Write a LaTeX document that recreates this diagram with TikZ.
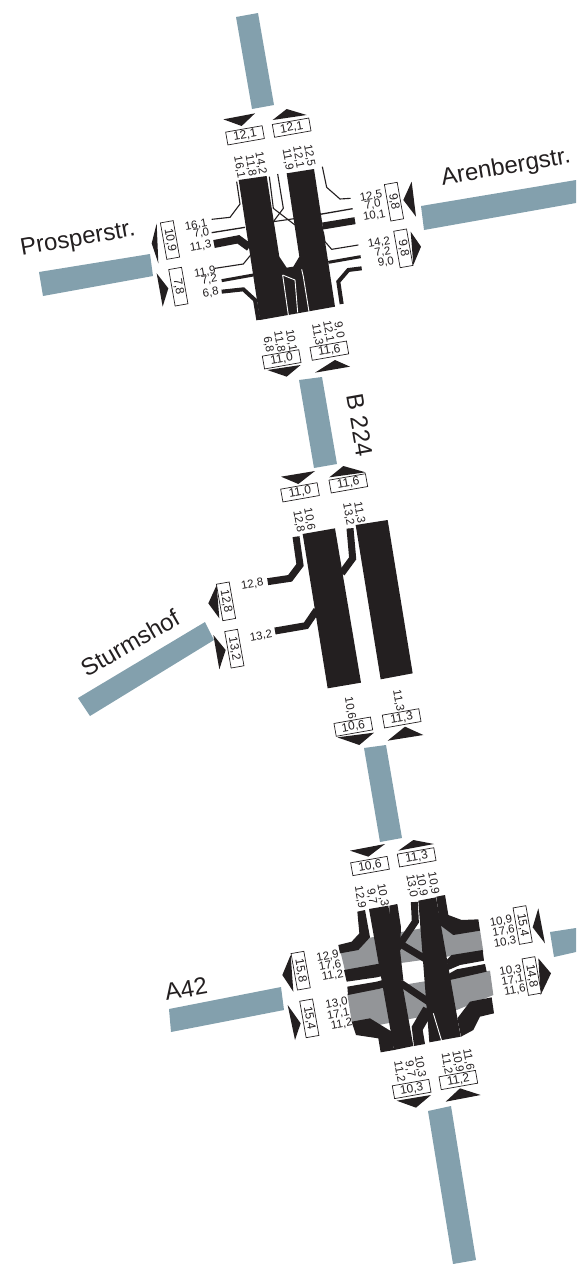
\documentclass[tikz,border=0pt]{standalone}
\usepackage{fontspec}
\setmainfont{Liberation Sans}
\definecolor{road}{HTML}{83A0AD}
\definecolor{bandgrey}{HTML}{939598}
\definecolor{ink}{HTML}{231F20}
\newcounter{lblno}
\tikzset{
  roadshape/.style={fill=road,draw=none},
  tri/.style={fill=ink,draw=none},
  band/.style={fill=ink,draw=none},
  slit/.style={draw=white,line width=0.9pt},
  stroke/.style={draw=ink,line width=#1,line join=miter},
  stroke/.default=1pt,
  val/.style={inner sep=0pt,font=\fontsize{11.5}{12}\selectfont,text=ink},
  valbox/.style={draw=ink,line width=0.7pt,fill=white,inner sep=0pt,minimum width=37pt,minimum height=13pt,
    font=\fontsize{12}{12}\selectfont,text=ink},
  street/.style={inner sep=0pt,font=\fontsize{24}{26}\selectfont,text=ink},
  zoomA/.style={shift={(140,100)},x=0.33333pt,y=-0.33333pt},
  zoomB/.style={shift={(200,460)},x=0.33333pt,y=-0.33333pt},
  zoomC/.style={shift={(270,840)},x=0.33333pt,y=-0.33333pt},
}
% horizontal value, stacked value, boxes
\newcommand{\hval}[2]{\stepcounter{lblno}\node[val,rotate=10] (v\arabic{lblno}) at #1 {#2};}
\newcommand{\sval}[2]{\stepcounter{lblno}\node[val,rotate=-80] (v\arabic{lblno}) at #1 {#2};}
\newcommand{\hbx}[2]{\stepcounter{lblno}\node[valbox,rotate=10] (v\arabic{lblno}) at #1 {#2};}
\newcommand{\sbx}[2]{\stepcounter{lblno}\node[valbox,rotate=-80] (v\arabic{lblno}) at #1 {#2};}
\begin{document}
\begin{tikzpicture}[x=1pt,y=-1pt]
\useasboundingbox (0,0) rectangle (576,1264);
% roads
\fill[roadshape] (236,17) -- (258,13) -- (274,105) -- (252,109) -- cycle;
\fill[roadshape] (39,272) -- (150,254) -- (153,276) -- (43,296) -- cycle;
\fill[roadshape] (421,206) -- (576,180) -- (576,203) -- (424,230) -- cycle;
\fill[roadshape] (299,380) -- (322,377) -- (337,464) -- (314,468) -- cycle;
\fill[roadshape] (78,698) -- (205,622) -- (214,640) -- (90,716) -- cycle;
\fill[roadshape] (364,748) -- (386,745) -- (402,838) -- (380,842) -- cycle;
\fill[roadshape] (169,1009) -- (281,987) -- (284,1010) -- (171,1032) -- cycle;
\fill[roadshape] (550,932) -- (576,928) -- (576,952) -- (554,957) -- cycle;
\fill[roadshape] (428,1111) -- (451,1106) -- (476,1260) -- (453,1264) -- cycle;
% street names
\node[street,rotate=10] (prosper) at (78,240) {Prosperstr.};
\node[street,rotate=10] (arenberg) at (506,168) {Arenbergstr.};
\node[street,rotate=30] (sturm) at (130,643) {Sturmshof};
\node[street,rotate=-80] (b224) at (360,425) {B 224};
\node[street,rotate=10] (a42) at (186,989) {A42};

% ---------- junction 1
\begin{scope}[zoomA]
\fill[band] (296,240) -- (380,228) -- (418,470) -- (440,503) -- (460,500) -- (478,470) -- (440,220) -- (522,207) -- (585,620) -- (360,660) -- cycle;
\draw[slit] (428,525) -- (445,645);
\draw[slit] (428,525) -- (465,540) -- (473,637);
\draw[slit] (485,508) -- (490,530) -- (507,635);
\draw[stroke=1.1pt] (215,358) -- (270,352) -- (300,312) -- (290,245);
\draw[stroke=1.3pt] (215,398) -- (315,382);
\draw[stroke=8pt] (222,432) -- (295,418) -- (328,442);
\draw[stroke=1.1pt] (225,505) -- (310,492) -- (332,465);
\draw[stroke=3pt] (245,542) -- (340,525);
\draw[stroke=4pt] (245,575) -- (310,568) -- (345,600) -- (355,660);
\draw[stroke=1.1pt] (632,295) -- (600,297) -- (560,262) -- (547,200);
\draw[stroke=1.3pt] (638,326) -- (540,343);
\draw[stroke=7pt] (645,362) -- (548,378);
\draw[stroke=1.1pt] (655,435) -- (575,448) -- (555,425) -- (550,395);
\draw[stroke=3pt] (662,470) -- (565,487);
\draw[stroke=4pt] (665,505) -- (625,510) -- (595,545) -- (605,612);
\draw[stroke=1.1pt] (388,230) -- (400,325) -- (465,375);
\draw[stroke=1.1pt] (413,222) -- (430,325) -- (400,365) -- (470,355);
\fill[tri] (250,58) -- (345,40) -- (305,78) -- cycle;
\fill[tri] (398,60) -- (500,45) -- (440,27) -- cycle;
\fill[tri] (35,430) -- (50,370) -- (55,490) -- cycle;
\fill[tri] (50,520) -- (85,565) -- (68,620) -- cycle;
\fill[tri] (790,300) -- (815,245) -- (828,350) -- cycle;
\fill[tri] (812,395) -- (843,440) -- (820,495) -- cycle;
\fill[tri] (382,810) -- (482,795) -- (440,830) -- cycle;
\fill[tri] (525,818) -- (630,800) -- (585,780) -- cycle;
\sval{(362,190)}{14,2} \sval{(332,197)}{11,8} \sval{(298,202)}{16,1}
\sval{(508,167)}{12,5} \sval{(475,172)}{12,1} \sval{(443,178)}{11,9}
\hval{(168,375)}{16,1} \hval{(184,400)}{7,0} \hval{(182,438)}{11,3}
\hval{(195,517)}{11,9} \hval{(208,540)}{7,2} \hval{(212,578)}{6,8}
\hval{(693,288)}{12,5} \hval{(698,315)}{7,0} \hval{(703,347)}{10,1}
\hval{(717,428)}{14,2} \hval{(728,457)}{7,2} \hval{(738,487)}{9,0}
\sval{(453,722)}{10,1} \sval{(418,725)}{11,8} \sval{(385,733)}{6,8}
\sval{(597,690)}{9,0} \sval{(565,695)}{12,1} \sval{(532,705)}{11,3}
\hbx{(315,106)}{12,1} \hbx{(455,83)}{12,1}
\hbx{(425,778)}{11,0} \hbx{(568,752)}{11,6}
\sbx{(762,305)}{9,8} \sbx{(790,445)}{9,8}
\sbx{(90,420)}{10,9} \sbx{(115,560)}{7,8}
\end{scope}

% ---------- junction 2
\begin{scope}[zoomB]
\fill[band] (308,222) -- (405,205) -- (483,668) -- (383,685) -- cycle;
\fill[band] (467,195) -- (563,180) -- (638,640) -- (542,658) -- cycle;
\draw[stroke=7pt] (288,230) -- (300,315) -- (270,355) -- (203,365);
\draw[stroke=7pt] (225,513) -- (318,497) -- (350,450);
\draw[stroke=7pt] (450,205) -- (458,295) -- (425,340);
\fill[tri] (243,50) -- (345,33) -- (295,72) -- cycle;
\fill[tri] (388,52) -- (497,37) -- (430,18) -- cycle;
\fill[tri] (25,430) -- (50,375) -- (58,475) -- cycle;
\fill[tri] (40,525) -- (77,570) -- (58,628) -- cycle;
\fill[tri] (412,832) -- (522,818) -- (478,855) -- cycle;
\fill[tri] (563,842) -- (670,825) -- (615,800) -- cycle;
\hval{(157,373)}{12,8} \hval{(183,528)}{13,2}
\sval{(328,178)}{10,6} \sval{(296,185)}{12,8}
\sval{(478,158)}{11,3} \sval{(445,163)}{13,2}
\sval{(450,745)}{10,6} \sval{(595,722)}{11,3}
\hbx{(300,97)}{11,0} \hbx{(445,70)}{11,6}
\hbx{(460,800)}{10,6} \hbx{(605,775)}{11,3}
\sbx{(78,424)}{12,8} \sbx{(103,566)}{13,2}
\end{scope}

% ---------- junction 3
\begin{scope}[zoomC]
\fill[bandgrey] (212,338) -- (300,293) -- (510,255) -- (630,270) -- (640,335) -- (225,392) -- cycle;
\fill[bandgrey] (232,462) -- (660,392) -- (670,465) -- (560,510) -- (300,560) -- (245,545) -- cycle;
% left band and stripes
\fill[band] (297,207) -- (355,197) -- (430,618) -- (372,630) -- cycle;
\fill[band] (358,197) -- (382,192) -- (393,262) -- (390,330) -- (400,420) -- (360,420) -- cycle;
\fill[band] (445,182) -- (498,172) -- (572,590) -- (478,607) -- cycle;
\draw[slit] (490,520) -- (515,603);
\draw[stroke=7pt] (433,186) -- (436,245) -- (375,335);
\draw[stroke=7pt] (380,305) -- (480,365);
\draw[stroke=7pt] (390,428) -- (490,495);
\fill[band] (432,618) -- (465,612) -- (458,570) -- (490,515) -- (460,500) -- (425,560) -- cycle;
% left branches
\fill[band] (262,215) -- (285,210) -- (300,292) -- (265,330) -- (210,340) -- (205,315) -- (245,305) -- (268,280) -- cycle;
\fill[band] (222,390) -- (345,368) -- (350,405) -- (320,412) -- (230,425) -- cycle;
\fill[band] (232,440) -- (320,425) -- (345,418) -- (350,442) -- (234,465) -- cycle;
\fill[band] (245,545) -- (300,535) -- (365,575) -- (372,630) -- (332,637) -- (325,595) -- (258,585) -- cycle;
% right branches
\fill[band] (499,170) -- (525,165) -- (535,225) -- (575,240) -- (625,238) -- (630,272) -- (550,285) -- (510,255) -- cycle;
\fill[band] (530,360) -- (545,345) -- (638,330) -- (642,362) -- (570,375) -- (535,390) -- cycle;
\fill[band] (530,405) -- (560,388) -- (645,372) -- (650,395) -- (540,420) -- cycle;
\fill[band] (562,535) -- (600,485) -- (665,472) -- (672,520) -- (630,530) -- (610,570) -- (573,590) -- cycle;
\fill[tri] (240,32) -- (345,12) -- (295,50) -- cycle;
\fill[tri] (385,32) -- (492,12) -- (430,0) -- cycle;
\fill[tri] (788,262) -- (805,205) -- (825,310) -- cycle;
\fill[tri] (805,355) -- (843,400) -- (812,465) -- cycle;
\fill[tri] (37,405) -- (62,345) -- (70,455) -- cycle;
\fill[tri] (53,495) -- (92,550) -- (75,600) -- cycle;
\fill[tri] (380,782) -- (483,765) -- (438,803) -- cycle;
\fill[tri] (527,785) -- (632,765) -- (570,745) -- cycle;
\sval{(338,165)}{10,3} \sval{(305,170)}{9,7} \sval{(270,172)}{12,9}
\sval{(490,130)}{10,9} \sval{(455,135)}{10,9} \sval{(425,138)}{13,0}
\hval{(173,349)}{12,9} \hval{(180,377)}{17,6} \hval{(188,407)}{11,2}
\hval{(200,490)}{13,0} \hval{(205,522)}{17,1} \hval{(215,553)}{11,2}
\hval{(693,244)}{10,9} \hval{(701,273)}{17,6} \hval{(705,306)}{10,3}
\hval{(722,392)}{10,3} \hval{(728,420)}{17,1} \hval{(735,450)}{11,6}
\sval{(450,680)}{10,3} \sval{(420,687)}{9,7} \sval{(388,695)}{11,2}
\sval{(595,658)}{11,6} \sval{(563,665)}{10,9} \sval{(530,672)}{11,2}
\hbx{(300,78)}{10,6} \hbx{(440,52)}{11,3}
\hbx{(425,747)}{10,3} \hbx{(565,720)}{11,2}
\sbx{(758,255)}{15,4} \sbx{(785,408)}{14,8}
\sbx{(92,392)}{15,8} \sbx{(118,535)}{15,4}
\end{scope}
\end{tikzpicture}
\end{document}
